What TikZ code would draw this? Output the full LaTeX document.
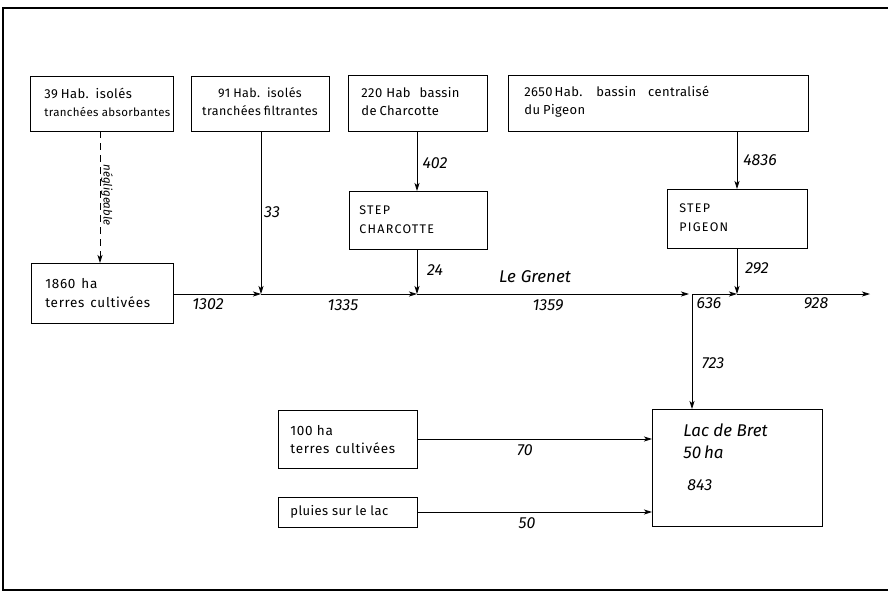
\documentclass[tikz,border=0pt]{standalone}
\usepackage{fontspec}
\setmainfont{Fira Sans}
\newfontfamily\boxfont[LetterSpace=3]{Fira Sans}
\newfontfamily\wideboxfont[LetterSpace=5]{Fira Sans}
\newfontfamily\capfont[LetterSpace=10]{Fira Sans}
\usetikzlibrary{arrows.meta,calc}
\newcommand\sgap[1]{\hspace{#1pt}}
\begin{document}
\begin{tikzpicture}[x=1pt,y=-1pt,
  line width=0.8pt,
  box/.style={draw, rectangle, inner sep=0pt, anchor=north west},
  txt/.style={align=left, anchor=west, inner sep=0pt, font=\boxfont\fontsize{13}{18}\selectfont},
  ctxt/.style={txt, align=center, anchor=center},
  num/.style={inner sep=0pt, font=\fontsize{16}{18}\selectfont\itshape},
  flow/.style={-{Stealth[length=8pt,width=5pt,inset=2pt]}},
]
\useasboundingbox (0,0) rectangle (888,595);
\draw[line width=1.2pt] (3,8) rectangle (892,590);

% boxes
\node[box, minimum width=143, minimum height=55] (b1) at (30,76) {};
\node[txt] (t1) at (44,102) {\fontsize{13}{18}\selectfont 39\sgap{3}Hab.\sgap{7}isolés\\\fontsize{11.5}{18}\selectfont tranchées absorbantes};
\node[box, minimum width=138, minimum height=55] (b2) at (191,76) {};
\node[ctxt, font=\boxfont\fontsize{12.5}{18}\selectfont] (t2) at (260,102) {91\sgap{3}Hab.\sgap{7}isolés\\tranchées\sgap{3}filtrantes};
\node[box, minimum width=139, minimum height=56] (b3) at (348,75) {};
\node[txt] (t3) at (361,102) {220\sgap{4}Hab\sgap{9}bassin\\de\sgap{3}Charcotte};
\node[box, minimum width=300, minimum height=56] (b4) at (508,75) {};
\node[txt] (t4) at (524,102) {2650\sgap{2}Hab.\sgap{14}bassin\sgap{12}centralisé\\du\sgap{3}Pigeon};
\node[box, minimum width=138, minimum height=58] (s1) at (349,191) {};
\node[txt, font=\capfont\fontsize{12.5}{19}\selectfont] (ts1) at (359,219.5) {STEP\\CHARCOTTE};
\node[box, minimum width=140, minimum height=59] (s2) at (667,189) {};
\node[txt, font=\capfont\fontsize{12.5}{19}\selectfont] (ts2) at (679,218) {STEP\\PIGEON};
\node[box, minimum width=142, minimum height=60] (b5) at (31,263) {};
\node[txt, font=\wideboxfont\fontsize{13.5}{19}\selectfont] (t5) at (45,293.5) {1860\sgap{6}ha\\terres\sgap{6}cultivées};
\node[box, minimum width=139, minimum height=58] (b6) at (278,410) {};
\node[txt, font=\wideboxfont\fontsize{13.5}{18}\selectfont] (t6) at (290,440) {100 ha\\terres\sgap{6}cultivées};
\node[box, minimum width=139, minimum height=30] (b7) at (278,497) {};
\node[txt, font=\boxfont\fontsize{13}{18}\selectfont] (t7) at (290,512) {pluies sur le lac};
\node[box, minimum width=170, minimum height=117] (lac) at (652,409) {};
\node[num, align=left, anchor=north west, font=\fontsize{17}{22}\selectfont\itshape] (tl) at (683,423) {Lac de Bret\\50\,ha};
\node[num, anchor=west] (tl2) at (687,485) {843};

% junctions on the river
\coordinate (j1) at (261,294);
\coordinate (j2) at (417,294);
\coordinate (j3) at (692,294);
\coordinate (j4) at (737,294);
\coordinate (rend) at (870,294);

% river
\draw[flow] (b5.east |- j1) -- (j1);
\draw[flow] (j1) -- (j2);
\draw[flow] (j2) -- ([xshift=-3]j3);
\draw[flow] (j3) -- (j4);
\draw[flow] (j4) -- (rend);

% vertical flows
\draw[flow] (b2.south -| j1) -- (j1);
\draw[flow] (b3.south -| j2) -- (s1.north -| j2);
\draw[flow] (s1.south -| j2) -- (j2);
\draw[flow] (b4.south -| j4) -- (s2.north -| j4);
\draw[flow] (s2.south -| j4) -- (j4);
\draw[flow, dashed, dash pattern=on 7pt off 5pt] (100,131) -- (b5.north -| 100,0);
\draw[flow] (j3) -- (lac.north -| j3);
\draw[flow] (b6.east |- 0,439) -- (lac.west |- 0,439);
\draw[flow] (b7.east |- 0,512) -- (lac.west |- 0,512);

% labels
\node[num] (n402) at (435,163) {402};
\node[num] (n4836) at (760,160) {4836};
\node[num] (n33) at (272,212) {33};
\node[num] (n1302) at (208,304) {1302};
\node[num] (n1335) at (343,305) {1335};
\node[num] (n24) at (435,270) {24};
\node[num, font=\fontsize{17}{18}\selectfont\itshape] (ng) at (535,277) {Le\sgap{5}Grenet};
\node[num] (n1359) at (548,305) {1359};
\node[num] (n292) at (757,268) {292};
\node[num] (n636) at (709,303) {636};
\node[num] (n928) at (816,303) {928};
\node[num] (n723) at (713,363) {723};
\node[num] (n70) at (525,450) {70};
\node[num] (n50) at (527,523) {50};
\node[num, rotate=-90, font=\fontsize{11.5}{14}\selectfont\itshape] (nneg) at (107,195) {négligeable};
\end{tikzpicture}
\end{document}
